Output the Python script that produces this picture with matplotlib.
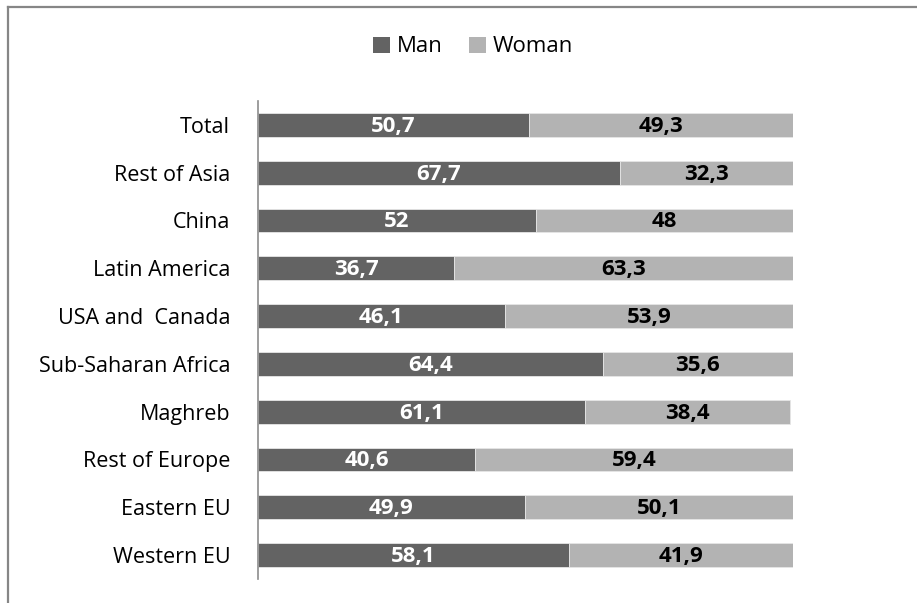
import matplotlib.pyplot as plt
from matplotlib.lines import Line2D
from matplotlib.patches import Patch

plt.rcParams['font.family'] = ['Open Sans', 'DejaVu Sans']

regions = ["Western EU", "Eastern EU", "Rest of Europe", "Maghreb",
           "Sub-Saharan Africa", "USA and  Canada", "Latin America",
           "China", "Rest of Asia", "Total"]
man = [58.1, 49.9, 40.6, 61.1, 64.4, 46.1, 36.7, 52, 67.7, 50.7]
woman = [41.9, 50.1, 59.4, 38.4, 35.6, 53.9, 63.3, 48, 32.3, 49.3]

dark = "#636363"
light = "#b3b3b3"


def fmt(v):
    s = ("%.1f" % v).rstrip("0").rstrip(".")
    return s.replace(".", ",")


fig = plt.figure(figsize=(9.17, 6.03), dpi=100)
ax = fig.add_axes([258 / 917, 1 - 579 / 603, 535 / 917, 478 / 603])

ypos = list(range(len(regions)))
ax.barh(ypos, man, height=0.5, color=dark, edgecolor="#e6e6e6", linewidth=0.6)
ax.barh(ypos, woman, left=man, height=0.5, color=light, edgecolor="#e6e6e6", linewidth=0.6)

for y, m, w in zip(ypos, man, woman):
    ax.text(m / 2, y - 0.03, fmt(m), ha="center", va="center", color="white",
            fontsize=16, fontweight="bold")
    ax.text(m + w / 2, y - 0.03, fmt(w), ha="center", va="center", color="black",
            fontsize=16, fontweight="bold")

ax.set_xlim(0, 100)
ax.set_ylim(-0.5, 9.5)
ax.set_yticks(ypos)
ax.set_yticklabels(regions, fontsize=15.5)
ax.tick_params(axis="y", length=0, pad=20)
ax.set_xticks([])
for side in ["top", "right", "bottom"]:
    ax.spines[side].set_visible(False)
ax.spines["left"].set_color("#8c8c8c")
ax.spines["left"].set_linewidth(1.2)

handles = [Patch(facecolor=dark, label="Man"), Patch(facecolor=light, label="Woman")]
fig.legend(handles=handles, loc="center", bbox_to_anchor=(473 / 917, 1 - 47 / 603),
           ncol=2, frameon=False, fontsize=16, handlelength=0.75, handleheight=0.75,
           handletextpad=0.3, columnspacing=1.2)

# chart area border (left and top visible)
fig.add_artist(Line2D([8 / 917, 8 / 917], [0, 1 - 7 / 603], transform=fig.transFigure,
                      color="#868686", linewidth=1.6))
fig.add_artist(Line2D([8 / 917, 1], [1 - 7 / 603, 1 - 7 / 603], transform=fig.transFigure,
                      color="#868686", linewidth=1.6))

fig.savefig("out.png", dpi=100)
